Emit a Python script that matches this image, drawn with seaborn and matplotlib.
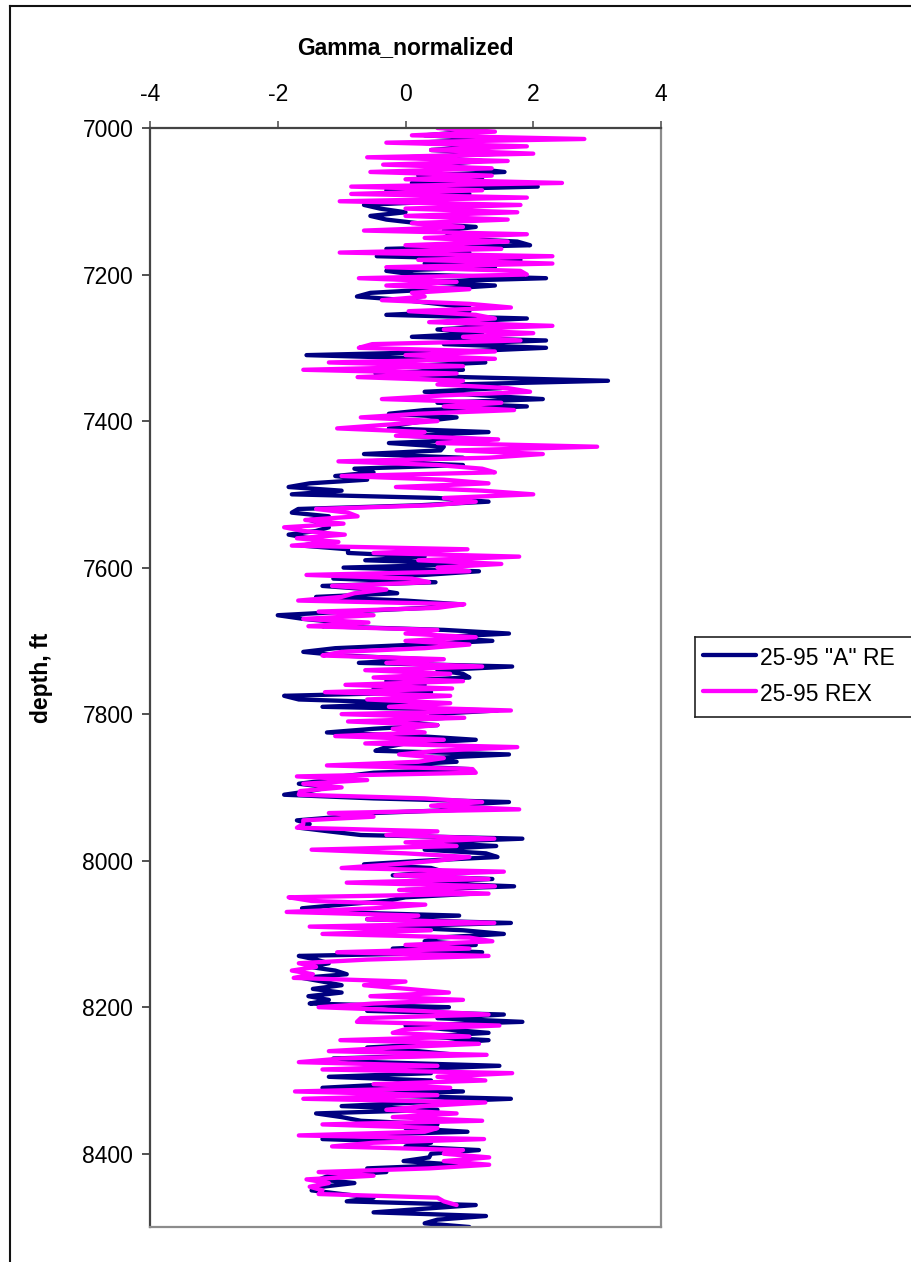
import numpy as np
import pandas as pd
import matplotlib
matplotlib.use("Agg")
import matplotlib.pyplot as plt
from matplotlib.lines import Line2D
import seaborn as sns

# Normalized gamma-ray logs of two wells, sampled every 5 ft
depth_a_re = np.arange(7000, 8501, 5)
gamma_a_re = [
    0.6, 1.0, 0.3, 1.4, 0.2, 1.3, 0.4, 1.5, 0.0, 1.2,
    0.5, 1.0, 1.55, 0.2, 1.2, 0.1, 2.07, -0.3, 1.0, 0.3,
    0.6, -0.65, -0.4, 0.0, -0.55, -0.3, 0.2, 1.1, 0.6, 0.7,
    0.6, 1.75, 1.95, -0.3, 1.0, -0.45, 1.8, 0.3, 1.4, -0.3,
    0.13, 2.2, 0.2, 1.4, 0.5, -0.55, -0.76, 0.0, 0.5, 1.0,
    1.0, -0.3, 1.9, 0.6, 1.5, 0.5, 1.2, 0.1, 2.2, 0.6,
    2.2, 0.9, -1.55, 0.5, 1.25, 0.0, 0.9, -0.47, 0.9, 3.17,
    0.8, 1.5, 0.3, 1.2, 2.15, 0.5, 1.9, 0.3, -0.26, 0.8,
    0.3, -0.1, -0.26, 1.3, 0.0, 1.2, -0.26, 0.6, 0.55, -0.65,
    0.9, -0.6, 0.9, -0.8, -0.5, -1.1, -0.6, -1.5, -1.83, -1.0,
    -1.78, 0.5, 1.3, 0.2, -1.68, -1.78, -1.2, -1.5, -1.3, -1.2,
    -1.4, -1.83, -1.5, -1.3, -1.62, -0.9, -0.9, 0.3, -0.63, 1.2,
    -0.97, 1.15, 0.3, -1.13, 0.47, -1.3, -0.5, -0.13, -1.4, 0.0,
    0.84, 0.3, -0.9, -2.0, -1.6, -1.0, -1.3, 0.6, 1.62, 0.5,
    1.36, 0.2, -1.1, -1.6, -1.0, 0.3, -0.73, 1.67, 0.5, 0.9,
    1.0, -0.3, 0.3, -0.5, 0.4, -1.9, -1.67, 0.2, -1.3, 1.44,
    0.4, 0.63, -0.3, 0.5, -0.5, -1.23, 0.2, 1.1, 0.0, -0.3,
    -0.47, 1.62, 0.4, 0.8, -0.3, 1.0, -0.5, -1.0, -1.2, -1.67,
    -1.2, -1.5, -1.9, -0.5, 1.62, 0.5, 1.0, -0.5, -1.0, -1.7,
    -1.5, -1.67, -1.2, -0.7, 1.83, 0.3, 1.42, 0.3, 1.26, 1.44,
    0.3, -0.65, 0.4, 0.6, -0.2, 1.36, 0.2, 1.7, 0.0, 1.07,
    0.0, -0.3, -1.0, -1.62, -1.2, 0.84, -0.6, 1.65, -0.37, 0.9,
    1.54, 0.5, 0.3, 1.1, -0.2, 1.2, -1.67, -1.4, -1.2, -1.5,
    -1.1, -0.92, -1.62, -1.3, -1.0, -1.45, -1.0, -1.52, -1.2, -1.5,
    0.68, -0.6, 1.54, 0.5, 1.83, 0.0, 0.6, 1.3, 0.3, 1.3,
    0.5, -0.6, 0.2, 0.8, -1.13, -0.5, 1.47, 0.0, 0.4, -1.2,
    0.4, -0.2, -1.3, 0.9, -0.6, 1.65, 0.2, -1.0, 0.5, -1.4,
    -1.0, -0.7, 0.5, 0.0, 0.97, -1.0, -1.3, 0.4, 0.0, 1.15,
    0.4, 0.37, -0.03, 0.8, -0.6, -0.3, -1.2, -1.35, -0.8, -1.3,
    -1.47, -1.0, -0.5, -0.92, 1.1, 0.3, -0.5, 1.26, 0.5, 0.3, 1.0,
]

depth_rex = np.arange(7000, 8471, 5)
gamma_rex = [
    0.5, 1.4, 0.1, 2.8, -0.3, 1.9, 0.4, 2.0, -0.6, 1.6,
    -0.35, 1.35, -0.55, 1.35, 0.0, 2.45, -0.85, 1.2, -0.85, 1.9,
    -1.03, 1.8, 0.0, 1.75, 0.0, 1.6, 0.1, 0.9, -0.65, 1.9,
    0.3, 1.6, 0.0, 1.5, -1.03, 2.3, 0.2, 2.3, -0.3, 1.8,
    1.9, -0.73, 0.8, -0.3, 1.0, 0.1, 0.3, -0.37, 1.0, 1.65,
    0.05, 1.1, 1.4, 0.37, 2.3, 0.6, 2.0, 0.9, 1.8, -0.52,
    -0.73, 1.4, 0.0, 1.4, -1.2, 0.9, -1.6, 0.8, -0.75, 0.9,
    0.5, 1.6, 1.95, 0.6, -0.37, 1.5, 0.6, 1.7, 0.2, -0.7,
    0.5, -0.3, -1.07, 0.3, -0.15, 1.45, 0.5, 3.0, 0.8, 2.15,
    1.3, -1.05, 0.5, 1.2, 1.4, -1.0, 0.6, 1.3, -0.15, 1.2,
    2.0, 0.6, 1.1, 0.4, -1.4, -0.9, -0.75, -1.57, -0.97, -1.9,
    -1.6, -0.95, -1.7, -1.05, -1.78, 0.97, -0.5, 1.78, 0.2, 1.5,
    0.5, 1.0, -1.55, 0.1, 0.37, -1.15, -0.3, -0.8, -1.0, -1.68,
    0.92, 0.5, -1.36, -0.5, -1.6, -0.58, -1.52, 0.5, 0.0, 1.1,
    0.0, 1.0, 0.3, -1.0, -1.3, 0.6, -0.3, 1.2, -0.63, 0.7,
    -0.5, 0.9, -0.94, 0.73, -1.26, 0.7, -0.6, 0.7, -0.26, 1.65,
    -1.0, 0.92, -0.9, 0.5, -0.2, 0.3, -1.1, 0.6, -0.63, 1.75,
    0.5, -0.1, 0.6, 0.2, -1.23, 1.05, 1.1, -1.7, -0.6, -1.6,
    -1.0, -1.65, -1.67, 0.3, 1.2, 0.4, 1.78, -1.2, -0.5, -1.6,
    -1.6, -1.7, 0.5, -0.3, 1.39, 0.0, 0.8, -1.47, 0.0, 1.0,
    0.5, -0.2, -1.0, 1.54, -0.16, 1.3, -0.92, 1.4, -0.1, 1.3,
    -1.83, -1.47, 0.31, -0.5, -1.86, 0.2, -0.6, 1.39, -1.5, 0.4,
    -1.3, 1.0, 1.36, 0.0, 1.0, -1.07, 1.3, -0.6, -1.67, -1.4,
    -1.78, -1.45, -1.75, 0.0, -0.65, 0.03, 0.68, -0.55, 0.9, -0.5,
    -1.36, 0.2, 1.3, -0.7, -0.76, 1.47, 0.0, -0.2, 1.0, -1.02,
    1.15, -0.2, -1.2, 1.27, -1.0, -1.67, 0.5, -1.3, 1.67, 0.5,
    1.25, -0.5, 0.7, -1.73, 0.5, -1.6, 1.25, 0.3, -0.3, 0.8,
    -0.2, 1.2, -1.3, 0.5, 0.3, -1.67, 1.23, -0.5, -1.15, 0.9,
    0.6, 1.31, 0.6, 1.31, 0.37, -1.36, -0.5, -1.55, -1.2, -1.5,
    -1.3, -1.36, 0.5, 0.6, 0.8,
]

series_names = ['25-95 "A" RE', '25-95 REX']
series_colors = ["#000080", "#FF00FF"]
x_ticks = [-4, -2, 0, 2, 4]
y_ticks = [7000, 7200, 7400, 7600, 7800, 8000, 8200, 8400]

sns.set_style("white")
plt.rcParams["font.family"] = ["Liberation Sans", "DejaVu Sans"]
plt.rcParams["text.color"] = "black"
plt.rcParams["axes.labelcolor"] = "black"
plt.rcParams["xtick.color"] = "black"
plt.rcParams["ytick.color"] = "black"

FS = 16.5
W, H = 912, 1262

fig = plt.figure(figsize=(W / 100, H / 100), dpi=100)
ax = fig.add_axes([150 / W, 1 - 1227 / H, 511 / W, (1227 - 128) / H])

frames = [
    pd.DataFrame({"gamma": gamma_a_re, "depth": depth_a_re}),
    pd.DataFrame({"gamma": gamma_rex, "depth": depth_rex}),
]
for df, name, col in zip(frames, series_names, series_colors):
    sns.lineplot(data=df, x="gamma", y="depth", orient="y", sort=False,
                 estimator=None, color=col, lw=3.1, label=name, ax=ax,
                 solid_capstyle="round", solid_joinstyle="round")

ax.set_xlim(-4, 4)
ax.set_ylim(8500, 7000)
ax.set_xticks(x_ticks)
ax.set_xticklabels([str(v) for v in x_ticks])
ax.set_yticks(y_ticks)
ax.set_yticklabels([str(v) for v in y_ticks])
ax.xaxis.tick_top()
ax.xaxis.set_label_position("top")
ax.set_xlabel("Gamma_normalized", fontsize=FS, fontweight="bold", labelpad=21)
ax.set_ylabel("depth, ft", fontsize=FS, fontweight="bold", labelpad=21)
ax.tick_params(axis="x", which="major", direction="out", length=5, width=1.2,
               color="#555555", labelcolor="black", labelsize=FS, pad=11,
               top=True, bottom=False)
ax.tick_params(axis="y", which="major", direction="out", length=6, width=1.2,
               color="#333333", labelcolor="black", labelsize=FS, pad=6,
               left=True)
ax.grid(False)

for side in ["top", "left"]:
    ax.spines[side].set_color("#444444")
    ax.spines[side].set_linewidth(1.6)
for side in ["right", "bottom"]:
    ax.spines[side].set_color("#8c8c8c")
    ax.spines[side].set_linewidth(1.6)

# legend entries; its box runs past the right edge of the figure
leg_left, leg_top, leg_bottom = 695, 637, 717
leg = ax.legend(loc="upper left",
                bbox_to_anchor=(leg_left / W, 1 - leg_top / H),
                bbox_transform=fig.transFigure,
                fontsize=FS, frameon=False,
                handlelength=2.3, handleheight=1.3, handletextpad=0.2,
                borderpad=0.35, labelspacing=0.45, borderaxespad=0)
for h in leg.get_lines():
    h.set_linewidth(3.1)
for t in leg.get_texts():
    t.set_color("black")


def fig_segment(x0, y0, x1, y1, color, lw):
    """Straight segment given in pixel coordinates from the top-left corner."""
    fig.lines.append(Line2D([x0 / W, x1 / W], [1 - y0 / H, 1 - y1 / H],
                            transform=fig.transFigure, color=color, lw=lw,
                            solid_capstyle="projecting", clip_on=False))


# open legend frame: left, top and bottom edges
fig_segment(leg_left, leg_top, leg_left, leg_bottom, "#222222", 1.2)
fig_segment(leg_left, leg_top, W, leg_top, "#222222", 1.2)
fig_segment(leg_left, leg_bottom, W, leg_bottom, "#222222", 1.2)

# chart-area border (left and top edges)
fig_segment(10, 6, 10, H, "#111111", 1.5)
fig_segment(10, 6, W, 6, "#111111", 1.5)

fig.savefig("out.png", dpi=100)
